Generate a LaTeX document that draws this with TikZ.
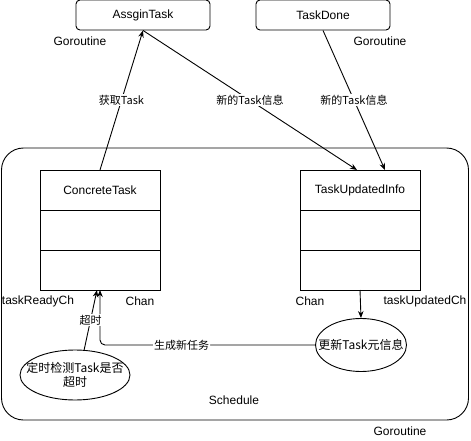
\documentclass[tikz,border=0pt]{standalone}
\usepackage{fontspec}
\setmainfont{Liberation Sans}
\newfontfamily\cjk{Noto Sans CJK SC}
\usetikzlibrary{positioning,shapes.geometric,arrows.meta}

\begin{document}
\begin{tikzpicture}[x=1pt, y=-1pt, line width=0.9pt,
  proc/.style={rectangle, draw, rounded corners=4pt, minimum width=134pt, minimum height=30pt, font=\fontsize{12}{14}\selectfont},
  row/.style={rectangle, draw, outer sep=0pt, minimum width=120pt, minimum height=40pt, font=\fontsize{12}{14}\selectfont},
  act/.style={ellipse, draw, inner xsep=-11pt, inner ysep=2pt, align=center, font=\cjk\fontsize{12}{14}\selectfont},
  lbl/.style={font=\fontsize{12}{14}\selectfont},
  elbl/.style={fill=white, inner sep=1pt, font=\cjk\fontsize{11}{13}\selectfont},
  >={Stealth[length=7pt, width=5.5pt]}]
  \useasboundingbox (0,0) rectangle (471,441);

  \node[draw, rounded corners=22pt, minimum width=467pt, minimum height=272pt] (sched) at (235,284) {};
  \node[lbl] (schedname) at (234,400) {Schedule};
  \node[lbl] (g3) at (400,431) {Goroutine};

  \node[proc] (assign) at (143,15) {AssginTask};
  \node[lbl] (g1) at (80,41) {Goroutine};
  \node[proc] (done) at (323,15) {TaskDone};
  \node[lbl] (g2) at (380,41) {Goroutine};

  \node[row] (ct1) at (100,190) {ConcreteTask};
  \node[row, below=0pt of ct1] (ct2) {};
  \node[row, below=0pt of ct2] (ct3) {};
  \node[lbl] (ready) at (38,301) {taskReadyCh};
  \node[lbl] (chan1) at (140,301) {Chan};

  \node[row] (tu1) at (360,190) {TaskUpdatedInfo};
  \node[row, below=0pt of tu1] (tu2) {};
  \node[row, below=0pt of tu2] (tu3) {};
  \node[lbl] (chan2) at (310,301) {Chan};
  \node[lbl] (updch) at (425,301) {taskUpdatedCh};

  \node[act, minimum width=91pt, minimum height=53pt] (upd) at (361,345) {更新Task元信息};
  \node[act, minimum width=110pt, minimum height=50pt] (chk) at (75,375) {定时检测Task是否\\超时};

  \draw[->] (ct1.north) -- node[elbl] {获取Task} (assign.south);
  \draw[->] (assign.south) -- node[elbl] {新的Task信息} ([xshift=-3pt]tu1.north);
  \draw[->] (done.south) -- node[elbl] {新的Task信息} ([xshift=25pt]tu1.north);
  \draw[->] (tu3.south) -- (upd.north);
  \draw[->, rounded corners=5pt] (upd.west) -| node[elbl, pos=0.31] {生成新任务} (ct3.south);
  \draw[->] (chk.70) -- node[elbl] {超时} ([xshift=-3pt]ct3.south);

\end{tikzpicture}
\end{document}
